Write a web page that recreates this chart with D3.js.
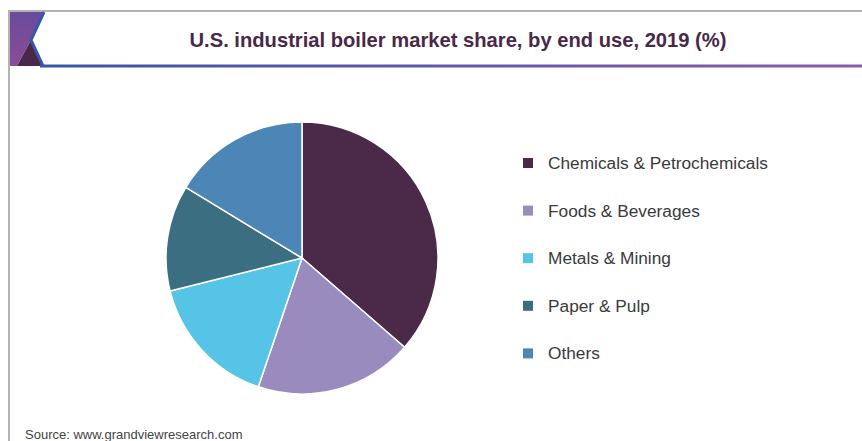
<!DOCTYPE html>
<html lang="en">
  <head>
    <meta charset="utf-8">
    <title>U.S. industrial boiler market share</title>
    <script src="https://d3js.org/d3.v7.min.js"></script>
    <style>
      body { margin: 0; background: #fff; }
      svg { display: block; }
    </style>
  </head>
  <body>
    <script>
const categories = ['Chemicals & Petrochemicals', 'Foods & Beverages', 'Metals & Mining', 'Paper & Pulp', 'Others']
const shares = [36.4, 18.8, 15.9, 12.6, 16.3]
const colors = ['#4b2949', '#9a8bbf', '#55c4e7', '#3b6e80', '#4c86b6']

const dimensions = {
  width: 862,
  height: 441,
  pie: { cx: 302, cy: 258, r: 136 },
  legend: { x: 523, y: 163, step: 47.6 }
}

const svg = d3.select('body')
  .append('svg')
  .attr('width', dimensions.width)
  .attr('height', dimensions.height)

const defs = svg.append('defs')
const lineGrad = defs.append('linearGradient').attr('id', 'line-grad')
lineGrad.append('stop').attr('offset', '0%').attr('stop-color', '#3a56a6')
lineGrad.append('stop').attr('offset', '100%').attr('stop-color', '#8a5ba8')
const blockGrad = defs.append('linearGradient').attr('id', 'block-grad')
  .attr('x1', 0).attr('y1', 0).attr('x2', 0).attr('y2', 1)
blockGrad.append('stop').attr('offset', '0%').attr('stop-color', '#6a4b9c')
blockGrad.append('stop').attr('offset', '100%').attr('stop-color', '#8a4c98')

// frame
svg.append('line').attr('x1', 8).attr('x2', 862).attr('y1', 11).attr('y2', 11)
  .attr('stroke', '#b3b3b3').attr('stroke-width', 2)
svg.append('line').attr('x1', 9).attr('x2', 9).attr('y1', 10).attr('y2', 441)
  .attr('stroke', '#b3b3b3').attr('stroke-width', 2)

// header decoration
svg.append('path').attr('d', 'M10,12 L44,12 L31,40 L17,66 L10,66 Z').attr('fill', 'url(#block-grad)')
svg.append('path').attr('d', 'M31,40 L43,66 L17,66 Z').attr('fill', '#4a2847')
svg.append('path').attr('d', 'M44,12 L31,40 L43,66')
  .attr('fill', 'none').attr('stroke', '#3a56a6').attr('stroke-width', 3)
svg.append('rect').attr('x', 40).attr('y', 64.5).attr('width', 822).attr('height', 3)
  .attr('fill', 'url(#line-grad)')

svg.append('text')
  .attr('x', 458)
  .attr('y', 47)
  .attr('text-anchor', 'middle')
  .attr('fill', '#4a2847')
  .attr('textLength', 537)
  .attr('lengthAdjust', 'spacingAndGlyphs')
  .style('font-family', '"Liberation Sans", Arial, sans-serif')
  .style('font-weight', 'bold')
  .style('font-size', '21px')
  .text('U.S. industrial boiler market share, by end use, 2019 (%)')

// pie
const pie = d3.pie().sort(null).value(d => d)
const arc = d3.arc().innerRadius(0).outerRadius(dimensions.pie.r)

svg.append('g')
  .attr('transform', `translate(${dimensions.pie.cx}, ${dimensions.pie.cy})`)
  .selectAll('path')
  .data(pie(shares))
  .join('path')
  .attr('d', arc)
  .attr('fill', (d, i) => colors[i])
  .attr('stroke', '#fff')
  .attr('stroke-width', 1.5)

// legend
const legend = svg.append('g')
  .attr('transform', `translate(${dimensions.legend.x}, ${dimensions.legend.y})`)
  .selectAll('g')
  .data(categories)
  .join('g')
  .attr('transform', (d, i) => `translate(0, ${i * dimensions.legend.step})`)

legend.append('rect')
  .attr('x', 0).attr('y', -5).attr('width', 10).attr('height', 10)
  .attr('fill', (d, i) => colors[i])

legend.append('text')
  .attr('x', 25)
  .attr('y', 6)
  .attr('fill', '#3a3a3a')
  .style('font-family', '"Liberation Sans", Arial, sans-serif')
  .style('font-size', '17.3px')
  .text(d => d)

svg.append('text')
  .attr('x', 25)
  .attr('y', 439)
  .attr('fill', '#444')
  .style('font-family', '"Liberation Sans", Arial, sans-serif')
  .style('font-size', '13px')
  .text('Source: www.grandviewresearch.com')
    </script>
  </body>
</html>
